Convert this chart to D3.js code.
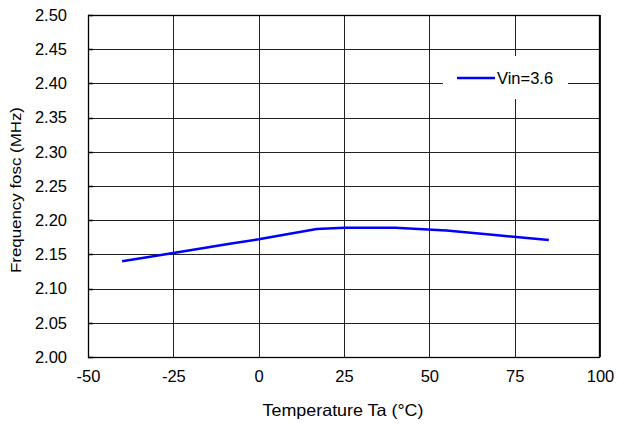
<!DOCTYPE html>
<html><head><meta charset="utf-8">
<script src="https://cdn.jsdelivr.net/npm/d3@7"></script>
<style>body{margin:0;background:#fff}svg{display:block}text{font-family:"Liberation Sans",Arial,sans-serif;fill:#000}</style>
</head><body>
<svg id="c" width="618" height="426"></svg>
<script>
const temps = [-40, -25, -8, 0, 17, 25, 40, 55, 70, 85];
const freqs = [2.140, 2.152, 2.166, 2.172, 2.187, 2.189, 2.189, 2.185, 2.178, 2.171];
const xTicks = [-50, -25, 0, 25, 50, 75, 100];
const yTicks = [2.00, 2.05, 2.10, 2.15, 2.20, 2.25, 2.30, 2.35, 2.40, 2.45, 2.50];
const seriesName = "Vin=3.6";
const xTitle = "Temperature Ta (°C)";
const yTitle = "Frequency  fosc (MHz)";

const svg = d3.select("#c");
const L = 88, R = 600, T = 15, B = 357;
const FS = 16.5;
const x = d3.scaleLinear().domain([-50, 100]).range([L, R]);
const y = d3.scaleLinear().domain([2.00, 2.50]).range([B, T]);

// gridlines
svg.append("g").selectAll("line").data(xTicks).join("line")
  .attr("x1", d => Math.round(x(d)) + 0.5).attr("x2", d => Math.round(x(d)) + 0.5)
  .attr("y1", T).attr("y2", B).attr("stroke", "#222").attr("stroke-width", 1);
svg.append("g").selectAll("line").data(yTicks).join("line")
  .attr("y1", d => Math.round(y(d)) + 0.5).attr("y2", d => Math.round(y(d)) + 0.5)
  .attr("x1", L).attr("x2", R).attr("stroke", "#222").attr("stroke-width", 1);

// legend background (covers gridlines)
svg.append("rect").attr("x", 443).attr("y", 56).attr("width", 125).attr("height", 43).attr("fill", "#fff");

// axes
const xAxis = d3.axisBottom(x).tickValues(xTicks).tickSize(0).tickPadding(13).tickFormat(d => String(d));
const gx = svg.append("g").attr("transform", `translate(0,${B})`).call(xAxis);
gx.select(".domain").remove();
gx.selectAll("text").attr("font-size", FS).attr("fill", "#000").attr("font-family", null);

const yAxis = d3.axisLeft(y).tickValues(yTicks).tickSize(0).tickPadding(21).tickFormat(d3.format(".2f"));
const gy = svg.append("g").attr("transform", `translate(${L},0)`).call(yAxis);
gy.select(".domain").remove();
gy.selectAll("text").attr("font-size", FS).attr("fill", "#000").attr("font-family", null);

// inner small ticks on left
svg.append("g").selectAll("line").data(yTicks).join("line")
  .attr("y1", d => Math.round(y(d)) + 0.5).attr("y2", d => Math.round(y(d)) + 0.5)
  .attr("x1", L).attr("x2", L + 5).attr("stroke", "#000").attr("stroke-width", 1.5);

// border
svg.append("rect").attr("x", L + 0.5).attr("y", T + 0.5).attr("width", R - L - 1).attr("height", B - T)
  .attr("fill", "none").attr("stroke", "#000").attr("stroke-width", 1.3);

// series
const line = d3.line().x((d, i) => x(temps[i])).y(d => y(d));
svg.append("path").datum(freqs).attr("d", line).attr("fill", "none")
  .attr("stroke", "#0000ff").attr("stroke-width", 2.5).attr("stroke-linejoin", "round");

// legend
svg.append("line").attr("x1", 457).attr("x2", 495).attr("y1", 78).attr("y2", 78)
  .attr("stroke", "#0000ff").attr("stroke-width", 2.5);
svg.append("text").attr("x", 497).attr("y", 84).attr("font-size", FS).text(seriesName);

// titles
svg.append("text").attr("x", 343).attr("y", 416).attr("text-anchor", "middle").attr("font-size", FS)
  .attr("textLength", 161).attr("lengthAdjust", "spacingAndGlyphs").text(xTitle);
svg.append("text").attr("transform", `translate(21,190) rotate(-90)`).attr("text-anchor", "middle")
  .attr("font-size", 15).attr("textLength", 166).attr("lengthAdjust", "spacingAndGlyphs").text(yTitle);
</script>
</body></html>
